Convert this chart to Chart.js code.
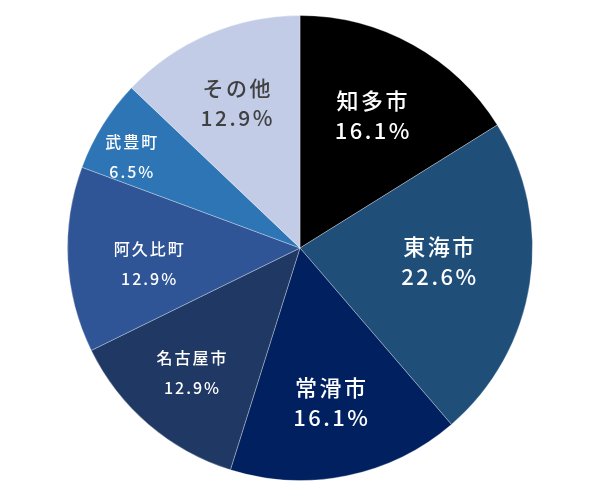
<!DOCTYPE html>
<html>
<head>
<meta charset="utf-8">
<script src="https://cdn.jsdelivr.net/npm/chart.js@4"></script>
<style>
  html, body { margin: 0; padding: 0; background: #fff; }
  #wrap { width: 600px; height: 500px; }
</style>
</head>
<body>
<div id="wrap"><canvas id="chart"></canvas></div>
<script>
// slices, clockwise from 12 o'clock
const cities  = ['知多市', '東海市', '常滑市', '名古屋市', '阿久比町', '武豊町', 'その他'];
const counts  = [5, 7, 5, 4, 4, 2, 4];
const percent = ['16.1%', '22.6%', '16.1%', '12.9%', '12.9%', '6.5%', '12.9%'];

const sliceColors = ['#000000', '#1f4e79', '#002060', '#203864', '#2f5597', '#2e75b6', '#c3cce6'];

// label look per slice: distance from centre (fraction of radius), angle nudge (deg), font size, colour
const labelRadius = [0.65, 0.605, 0.68, 0.71, 0.65, 0.82, 0.68];
const labelNudge  = [0, -3, 0, 0, -3, -3.5, 0];
const labelSize   = [22, 22, 22, 16, 16, 16, 21];
const labelColor  = ['#fff', '#fff', '#fff', '#fff', '#fff', '#fff', '#404040'];

const FONT = '"Noto Sans CJK JP", "Noto Sans", sans-serif';

// draws the two-line label inside each slice
const sliceLabels = {
  id: 'sliceLabels',
  afterDatasetsDraw(chart) {
    const ctx = chart.ctx;
    const meta = chart.getDatasetMeta(0);
    ctx.save();
    ctx.textAlign = 'center';
    ctx.textBaseline = 'middle';
    meta.data.forEach((arc, i) => {
      const p = arc.getProps(['x', 'y', 'startAngle', 'endAngle', 'outerRadius'], true);
      const mid = (p.startAngle + p.endAngle) / 2 + labelNudge[i] * Math.PI / 180;
      const r = p.outerRadius * labelRadius[i];
      const cx = p.x + Math.cos(mid) * r;
      const cy = p.y + Math.sin(mid) * r;
      const fs = labelSize[i];
      const big = fs > 18;
      ctx.fillStyle = labelColor[i];
      ctx.font = '500 ' + fs + 'px ' + FONT;
      ctx.letterSpacing = big ? '2.5px' : '2px';
      ctx.fillText(cities[i], cx, cy - 15);
      ctx.fillText(percent[i], cx, cy + 15);
    });
    ctx.restore();
  }
};

new Chart(document.getElementById('chart'), {
  type: 'pie',
  data: {
    labels: cities,
    datasets: [{
      data: counts,
      backgroundColor: sliceColors,
      borderColor: 'rgba(255,255,255,0.3)',
      borderWidth: 1,
    }],
  },
  options: {
    responsive: true,
    maintainAspectRatio: false,
    animation: false,
    layout: { padding: { top: 15, bottom: 19 } },
    plugins: {
      legend: { display: false },
      tooltip: { enabled: false },
    },
  },
  plugins: [sliceLabels],
});
</script>
</body>
</html>
